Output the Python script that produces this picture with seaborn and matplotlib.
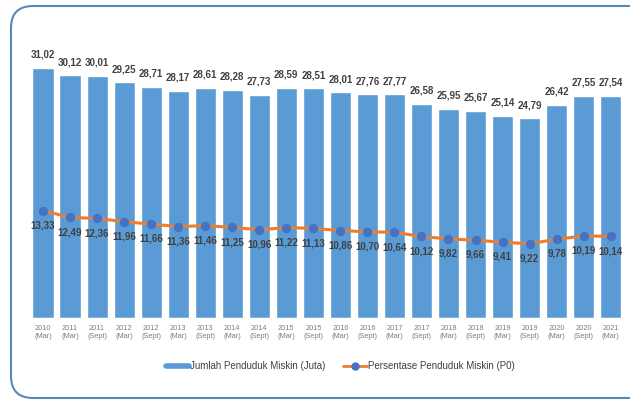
import numpy as np
import pandas as pd
import matplotlib
matplotlib.use("Agg")
import matplotlib.pyplot as plt
from matplotlib.patches import FancyBboxPatch
from matplotlib.lines import Line2D
import seaborn as sns

years = ["2010", "2011", "2011", "2012", "2012", "2013", "2013", "2014", "2014", "2015", "2015",
         "2016", "2016", "2017", "2017", "2018", "2018", "2019", "2019", "2020", "2020", "2021"]
periods = ["(Mar)", "(Mar)", "(Sept)", "(Mar)", "(Sept)", "(Mar)", "(Sept)", "(Mar)", "(Sept)", "(Mar)", "(Sept)",
           "(Mar)", "(Sept)", "(Mar)", "(Sept)", "(Mar)", "(Sept)", "(Mar)", "(Sept)", "(Mar)", "(Sept)", "(Mar)"]
jumlah = [31.02, 30.12, 30.01, 29.25, 28.71, 28.17, 28.61, 28.28, 27.73, 28.59, 28.51,
          28.01, 27.76, 27.77, 26.58, 25.95, 25.67, 25.14, 24.79, 26.42, 27.55, 27.54]
persen = [13.33, 12.49, 12.36, 11.96, 11.66, 11.36, 11.46, 11.25, 10.96, 11.22, 11.13,
          10.86, 10.70, 10.64, 10.12, 9.82, 9.66, 9.41, 9.22, 9.78, 10.19, 10.14]

labels = [f"{y}\n{p}" for y, p in zip(years, periods)]
df = pd.DataFrame({"label": labels, "jumlah": jumlah, "persen": persen, "idx": np.arange(len(labels))})

sns.set_theme(style="white")
plt.rcParams["font.family"] = ["Liberation Sans Narrow", "Liberation Sans", "DejaVu Sans"]

bar_color = "#5b9bd5"
line_color = "#ed7d31"
marker_color = "#4472c4"
text_color = "#404040"

fig = plt.figure(figsize=(6.30, 4.01), dpi=100)
ax = fig.add_axes([0.0468, 0.207, 0.944, 0.723])

sns.barplot(data=df, x="label", y="jumlah", color=bar_color, width=0.78, ax=ax,
            saturation=1, order=labels)
sns.lineplot(data=df, x="idx", y="persen", color=line_color, linewidth=2.2,
             marker="o", markersize=6, markerfacecolor=marker_color,
             markeredgecolor=marker_color, ax=ax, sort=False)

for i, (j, p) in enumerate(zip(jumlah, persen)):
    ax.annotate(f"{j:.2f}".replace(".", ","), (i, j), xytext=(0, 6), textcoords="offset points",
                ha="center", va="bottom", fontsize=7, fontweight="bold", color=text_color)
    ax.annotate(f"{p:.2f}".replace(".", ","), (i, p), xytext=(0, -7), textcoords="offset points",
                ha="center", va="top", fontsize=7, fontweight="bold", color=text_color)

ax.set_xlim(-0.5, len(labels) - 0.5)
ax.set_ylim(0, 36)
ax.set_xlabel("")
ax.set_ylabel("")
ax.set_yticks([])
ax.tick_params(axis="x", labelsize=5.3, colors="#7f7f7f", length=0, pad=5)
for s in ax.spines.values():
    s.set_visible(False)
ax.axhline(0, color="#d9d9d9", lw=0.8)

handles = [Line2D([0], [0], color=bar_color, lw=4),
           Line2D([0], [0], color=line_color, lw=2, marker="o", markersize=5,
                  markerfacecolor=marker_color, markeredgecolor=marker_color)]
fig.legend(handles, ["Jumlah Penduduk Miskin (Juta)", "Persentase Penduduk Miskin (P0)"],
           loc="center", bbox_to_anchor=(0.54, 0.087), ncol=2, frameon=False,
           fontsize=7, handlelength=2.4, columnspacing=1.8, handletextpad=0.15,
           labelcolor=text_color)

box = FancyBboxPatch((11 / 630, 3 / 401), 700 / 630, 392 / 401,
                     boxstyle="round,pad=0,rounding_size=0.035",
                     transform=fig.transFigure, fill=False, edgecolor="#5a87b8", lw=1.5,
                     mutation_aspect=630 / 401)
fig.patches.append(box)

fig.savefig("out.png", dpi=100)
